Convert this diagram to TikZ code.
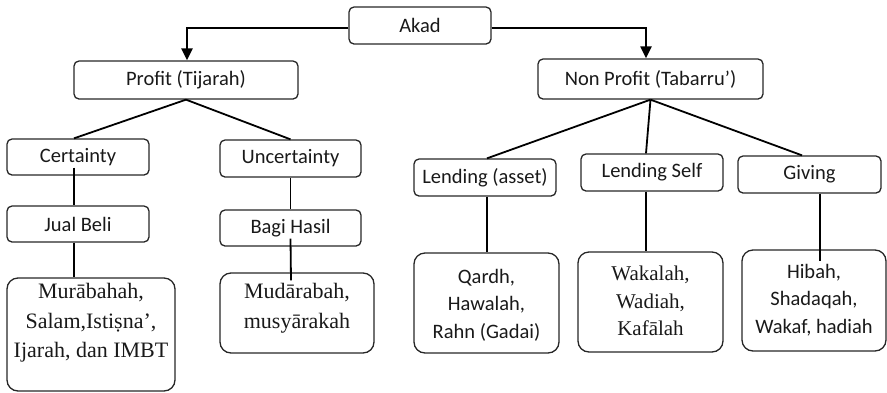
\documentclass[tikz,border=0pt]{standalone}
\usepackage{fontspec}
\setmainfont{Carlito}
\newfontfamily\leafserif{Liberation Serif}
\usetikzlibrary{arrows.meta}

\begin{document}
\begin{tikzpicture}[x=1pt,y=-1pt,
  box/.style={draw=black!85, line width=1.3pt, rounded corners=5pt, inner sep=0pt,
    text=black!90, font=\fontsize{20.5}{24}\selectfont},
  leafbox/.style={draw=black!85, line width=1.3pt, rounded corners=11pt, inner sep=0pt},
  sanstext/.style={inner sep=0pt, align=center, text=black!90,
    font=\fontsize{20.5}{27.5}\selectfont},
  seriftext/.style={inner sep=0pt, align=center, text=black!90,
    font=\leafserif\fontsize{21.5}{29}\selectfont},
  branch/.style={draw=black, line width=1.8pt},
  mainarrow/.style={draw=black, line width=2.2pt,
    -{Triangle[length=12pt,width=11pt]}}]

\useasboundingbox (0,0) rectangle (887,392);

% top level
\node[box, minimum width=142pt, minimum height=37pt] (akad) at (420,25.5) {Akad};
\node[box, minimum width=224pt, minimum height=38pt] (profit) at (186,80) {Profit (Tijarah)};
\node[box, minimum width=225pt, minimum height=40pt] (nonprofit) at (650.5,79) {Non Profit (Tabarru’)};

% profit branch
\node[box, minimum width=142pt, minimum height=36pt] (cert) at (78,157) {Certainty};
\node[box, minimum width=142pt, minimum height=36pt] (jual) at (78,224) {Jual Beli};
\node[box, minimum width=141pt, minimum height=37pt] (uncert) at (290.5,158.5) {Uncertainty};
\node[box, minimum width=141pt, minimum height=36pt] (bagi) at (290.5,228) {Bagi Hasil};

\node[leafbox, minimum width=168pt, minimum height=113pt] (murabahah) at (91,334.5) {};
\node[seriftext, font=\leafserif\fontsize{22}{29.5}\selectfont] (murabahahtext) at (91,323) {Murābahah,\\Salam,Istiṣna’,\\Ijarah, dan IMBT};
\node[leafbox, minimum width=154pt, minimum height=80pt] (mudarabah) at (297,313) {};
\node[seriftext, font=\leafserif\fontsize{22}{29.5}\selectfont] (mudarabahtext) at (297,308) {Mudārabah,\\musyārakah};

% non profit branch
\node[box, minimum width=142pt, minimum height=37pt] (lasset) at (485,177.5) {Lending (asset)};
\node[box, minimum width=142pt, minimum height=37pt] (lself) at (652,172.5) {Lending Self};
\node[box, minimum width=143pt, minimum height=37pt] (giving) at (809.5,174.5) {Giving};

\node[leafbox, minimum width=145pt, minimum height=100pt] (qardh) at (486.5,303) {};
\node[sanstext] (qardhtext) at (486.5,305) {Qardh,\\Hawalah,\\Rahn (Gadai)};
\node[leafbox, minimum width=145pt, minimum height=100pt] (wakalah) at (650.5,302) {};
\node[seriftext, font=\leafserif\fontsize{21}{27.5}\selectfont] (wakalahtext) at (650.5,301) {Wakalah,\\Wadiah,\\Kafālah};
\node[leafbox, minimum width=144pt, minimum height=101pt] (hibah) at (814,300.5) {};
\node[sanstext] (hibahtext) at (814,300) {Hibah,\\Shadaqah,\\Wakaf, hadiah};

% arrows from the root
\draw[mainarrow] ([yshift=-2.5pt]akad.west) -| ([xshift=1pt]profit.north);
\draw[mainarrow] ([yshift=-2.5pt]akad.east) -| ([xshift=-4.5pt]nonprofit.north);

% profit tree (some links run a little into the boxes)
\draw[branch] (profit.south) -- ([xshift=-4pt]cert.north);
\draw[branch] (profit.south) -- (uncert.north);
\draw[branch] ([xshift=-4pt,yshift=8pt]cert.south) -- ([xshift=-4pt]jual.north);
\draw[branch] ([xshift=-4pt]jual.south) -- ([xshift=-17pt]murabahah.north);
\draw[branch] (uncert.south) -- (bagi.north);
\draw[branch] ([yshift=8pt]bagi.south) -- ([xshift=-6pt,yshift=-8pt]mudarabah.north);

% non profit tree
\draw[branch] (nonprofit.south) -- ([xshift=2pt]lasset.north);
\draw[branch] (nonprofit.south) -- ([xshift=-6pt]lself.north);
\draw[branch] (nonprofit.south) -- ([xshift=-7.5pt]giving.north);
\draw[branch] ([xshift=2pt]lasset.south) -- ([xshift=0.5pt]qardh.north);
\draw[branch] ([xshift=-6pt]lself.south) -- ([xshift=-4.5pt]wakalah.north);
\draw[branch] ([xshift=10.5pt]giving.south) -- ([xshift=6pt,yshift=-12pt]hibah.north);

\end{tikzpicture}
\end{document}
